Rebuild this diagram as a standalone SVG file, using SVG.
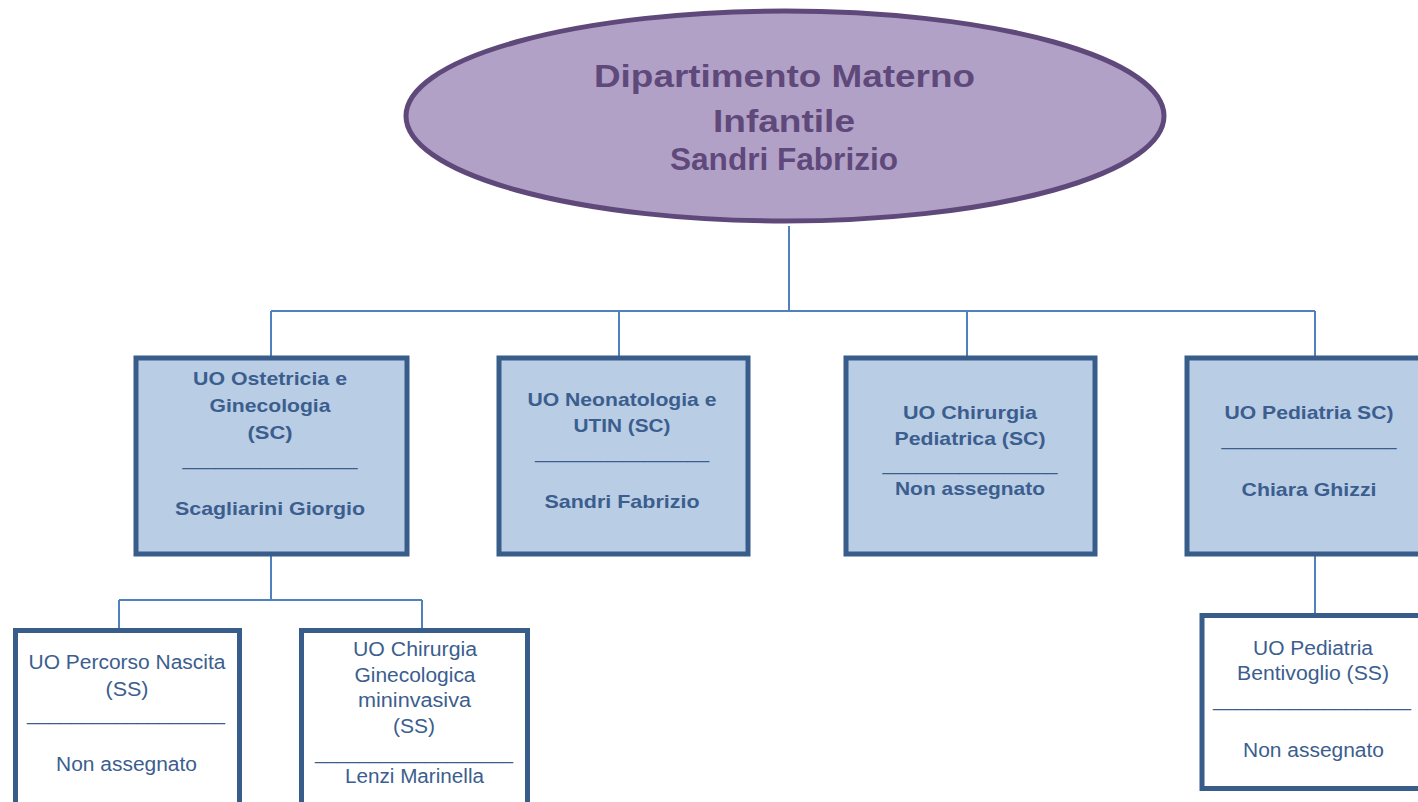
<svg xmlns="http://www.w3.org/2000/svg" width="1418" height="802" viewBox="0 0 1418 802">
<style>
text{font-family:"Liberation Sans",Arial,sans-serif;text-anchor:middle}
.et{font-weight:bold;font-size:31px;fill:#5F497A}
.b{font-weight:bold;font-size:19px;fill:#3B5E8E}
.n{font-size:20px;fill:#3B5E8E}
.box1{fill:#B9CDE5;stroke:#385D8A;stroke-width:5}
.box2{fill:#FFFFFF;stroke:#385D8A;stroke-width:5}
.conn{fill:none;stroke:#4F81BD;stroke-width:2}
</style>
<rect x="0" y="0" width="1418" height="802" fill="#FFFFFF"/>
<g id="connectors">
<path class="conn" d="M789 226V311M271 311H1315M271 311V356M619 311V356M967 311V356M1315 311V356"/>
<path class="conn" d="M271 556V600M119 600H422M119 600V629M422 600V629"/>
<path class="conn" d="M1315 556V614"/>
</g>
<g id="root">
<ellipse cx="785" cy="116" rx="379" ry="105" fill="#B2A1C7" stroke="#5F497A" stroke-width="5"/>
<text class="et" x="784.5" y="87" font-size="32" textLength="381" lengthAdjust="spacingAndGlyphs">Dipartimento Materno</text>
<text class="et" x="784" y="132" font-size="32" textLength="142" lengthAdjust="spacingAndGlyphs">Infantile</text>
<text class="et" x="784" y="170" font-size="30" textLength="228" lengthAdjust="spacingAndGlyphs">Sandri Fabrizio</text>
</g>
<g id="uo-ostetricia">
<rect class="box1" x="136" y="358" width="271" height="196"/>
<text class="b" x="270" y="385" textLength="154" lengthAdjust="spacingAndGlyphs">UO Ostetricia e</text>
<text class="b" x="270" y="412" textLength="121" lengthAdjust="spacingAndGlyphs">Ginecologia</text>
<text class="b" x="270" y="439" textLength="45" lengthAdjust="spacingAndGlyphs">(SC)</text>
<text class="n" x="270" y="465" textLength="175" lengthAdjust="spacingAndGlyphs">________________</text>
<text class="b" x="270" y="515" textLength="190" lengthAdjust="spacingAndGlyphs">Scagliarini Giorgio</text>
</g>
<g id="uo-neonatologia">
<rect class="box1" x="499" y="358" width="249" height="196"/>
<text class="b" x="622" y="406" textLength="189" lengthAdjust="spacingAndGlyphs">UO Neonatologia e</text>
<text class="b" x="622" y="432" textLength="97" lengthAdjust="spacingAndGlyphs">UTIN (SC)</text>
<text class="n" x="622" y="458" textLength="174" lengthAdjust="spacingAndGlyphs">________________</text>
<text class="b" x="622" y="508" textLength="155" lengthAdjust="spacingAndGlyphs">Sandri Fabrizio</text>
</g>
<g id="uo-chirurgia-pediatrica">
<rect class="box1" x="846" y="358" width="249" height="196"/>
<text class="b" x="970" y="419" textLength="134" lengthAdjust="spacingAndGlyphs">UO Chirurgia</text>
<text class="b" x="970" y="445" textLength="151" lengthAdjust="spacingAndGlyphs">Pediatrica (SC)</text>
<text class="n" x="970" y="470" textLength="175" lengthAdjust="spacingAndGlyphs">________________</text>
<text class="b" x="970" y="495" textLength="150" lengthAdjust="spacingAndGlyphs">Non assegnato</text>
</g>
<g id="uo-pediatria">
<rect class="box1" x="1187" y="358" width="260" height="196"/>
<text class="b" x="1309" y="419" textLength="169" lengthAdjust="spacingAndGlyphs">UO Pediatria SC)</text>
<text class="n" x="1309" y="445" textLength="175" lengthAdjust="spacingAndGlyphs">________________</text>
<text class="b" x="1309" y="496" textLength="135" lengthAdjust="spacingAndGlyphs">Chiara Ghizzi</text>
</g>
<g id="uo-percorso-nascita">
<rect class="box2" x="15.5" y="630.5" width="224" height="200"/>
<text class="n" x="127" y="669" textLength="197" lengthAdjust="spacingAndGlyphs">UO Percorso Nascita</text>
<text class="n" x="127" y="696" textLength="43" lengthAdjust="spacingAndGlyphs">(SS)</text>
<text class="n" x="126" y="720" textLength="198" lengthAdjust="spacingAndGlyphs">__________________</text>
<text class="n" x="126.5" y="771" textLength="141" lengthAdjust="spacingAndGlyphs">Non assegnato</text>
</g>
<g id="uo-chirurgia-ginecologica">
<rect class="box2" x="301.5" y="630.5" width="226" height="200"/>
<text class="n" x="415" y="656" textLength="124" lengthAdjust="spacingAndGlyphs">UO Chirurgia</text>
<text class="n" x="415" y="682" textLength="121" lengthAdjust="spacingAndGlyphs">Ginecologica</text>
<text class="n" x="414.5" y="707" textLength="113" lengthAdjust="spacingAndGlyphs">mininvasiva</text>
<text class="n" x="414" y="733" textLength="42" lengthAdjust="spacingAndGlyphs">(SS)</text>
<text class="n" x="414" y="759" textLength="198" lengthAdjust="spacingAndGlyphs">__________________</text>
<text class="n" x="414.5" y="783" textLength="139" lengthAdjust="spacingAndGlyphs">Lenzi Marinella</text>
</g>
<g id="uo-pediatria-bentivoglio">
<rect class="box2" x="1202" y="615.5" width="240" height="173"/>
<text class="n" x="1313" y="655" textLength="120" lengthAdjust="spacingAndGlyphs">UO Pediatria</text>
<text class="n" x="1313" y="680" textLength="152" lengthAdjust="spacingAndGlyphs">Bentivoglio (SS)</text>
<text class="n" x="1312" y="706" textLength="198" lengthAdjust="spacingAndGlyphs">__________________</text>
<text class="n" x="1313.5" y="757" textLength="141" lengthAdjust="spacingAndGlyphs">Non assegnato</text>
</g>
</svg>
